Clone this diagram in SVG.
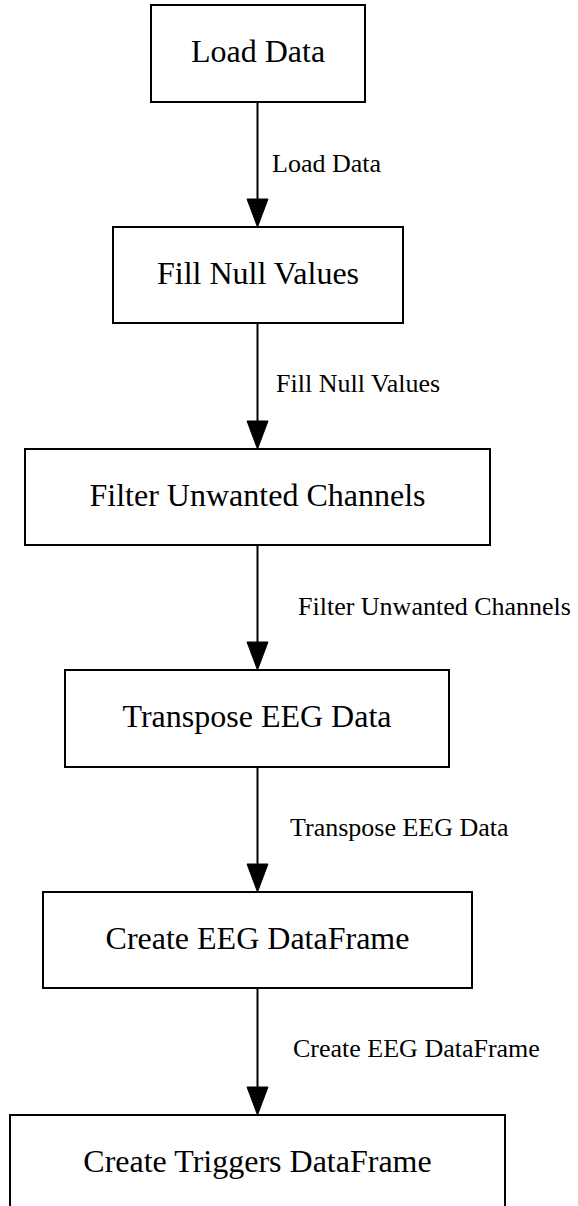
<svg xmlns="http://www.w3.org/2000/svg" width="578" height="1206" viewBox="0 0 578 1206">
<defs>
<style>
.box{fill:#fff;stroke:#000;stroke-width:2}
.nt{font-family:"Liberation Serif","Times New Roman",serif;font-size:32px;fill:#000;text-anchor:middle}
.et{font-family:"Liberation Serif","Times New Roman",serif;font-size:26px;fill:#000}
.edge{stroke:#000;stroke-width:2;fill:none}
.head{fill:#000;stroke:#000;stroke-width:1}
</style>
</defs>
<rect width="578" height="1206" fill="#fff"/>
<g id="connectors">
  <g id="e1"><line class="edge" x1="257.5" y1="103" x2="257.5" y2="200"/><polygon class="head" points="247,199 268,199 257.5,227"/><text class="et" x="272" y="172">Load Data</text></g>
  <g id="e2"><line class="edge" x1="257.5" y1="323" x2="257.5" y2="422"/><polygon class="head" points="247,421 268,421 257.5,449"/><text class="et" x="276" y="392">Fill Null Values</text></g>
  <g id="e3"><line class="edge" x1="257.5" y1="545" x2="257.5" y2="643"/><polygon class="head" points="247,642 268,642 257.5,670"/><text class="et" x="298" y="615">Filter Unwanted Channels</text></g>
  <g id="e4"><line class="edge" x1="257.5" y1="767" x2="257.5" y2="865"/><polygon class="head" points="247,864 268,864 257.5,892"/><text class="et" x="290" y="836">Transpose EEG Data</text></g>
  <g id="e5"><line class="edge" x1="257.5" y1="988" x2="257.5" y2="1088"/><polygon class="head" points="247,1087 268,1087 257.5,1115"/><text class="et" x="293" y="1057">Create EEG DataFrame</text></g>
</g>
<g id="n1"><rect class="box" x="151" y="5" width="214" height="97"/><text class="nt" x="258" y="62">Load Data</text></g>
<g id="n2"><rect class="box" x="113" y="227" width="290" height="96"/><text class="nt" x="258" y="284">Fill Null Values</text></g>
<g id="n3"><rect class="box" x="25" y="449" width="465" height="96"/><text class="nt" x="257.5" y="506">Filter Unwanted Channels</text></g>
<g id="n4"><rect class="box" x="65" y="670" width="384" height="97"/><text class="nt" x="257" y="727">Transpose EEG Data</text></g>
<g id="n5"><rect class="box" x="43" y="892" width="429" height="96"/><text class="nt" x="257.5" y="949">Create EEG DataFrame</text></g>
<g id="n6"><rect class="box" x="10" y="1115" width="495" height="100"/><text class="nt" x="257.5" y="1172">Create Triggers DataFrame</text></g>
</svg>
